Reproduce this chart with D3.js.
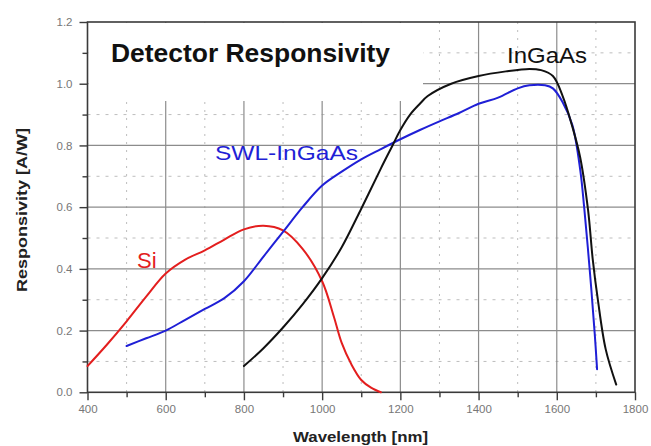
<!DOCTYPE html>
<html>
<head>
<meta charset="utf-8">
<script src="https://cdn.jsdelivr.net/npm/d3@7/dist/d3.min.js"></script>
<style>
  body { margin: 0; background: #fff; }
  text { font-family: "Liberation Sans", Arial, sans-serif; }
</style>
</head>
<body>
<svg id="chart" width="651" height="446"></svg>
<script>
// ---- data ----
var si_wl   = [400, 450, 500, 550, 600, 650, 700, 750, 800, 850, 900, 950, 1000, 1030, 1050, 1075, 1100, 1125, 1150]
var si_resp = [0.085, 0.155, 0.23, 0.31, 0.385, 0.43, 0.46, 0.495, 0.528, 0.54, 0.525, 0.465, 0.36, 0.245, 0.16, 0.09, 0.04, 0.015, 0.0]

var swl_wl   = [500, 550, 600, 650, 700, 750, 800, 850, 900, 950, 1000, 1050, 1100, 1150, 1200, 1250, 1300, 1350, 1400, 1450, 1500, 1530, 1570, 1590, 1615, 1640, 1660, 1670, 1685, 1697, 1703]
var swl_resp = [0.15, 0.175, 0.2, 0.235, 0.27, 0.305, 0.36, 0.44, 0.52, 0.6, 0.67, 0.715, 0.755, 0.788, 0.82, 0.85, 0.878, 0.905, 0.935, 0.955, 0.985, 0.995, 0.995, 0.985, 0.94, 0.865, 0.72, 0.6, 0.385, 0.19, 0.075]

var ingaas_wl   = [800, 850, 900, 950, 1000, 1050, 1100, 1150, 1180, 1200, 1225, 1250, 1270, 1330, 1400, 1470, 1530, 1560, 1590, 1615, 1640, 1660, 1680, 1692, 1705, 1725, 1752]
var ingaas_resp = [0.085, 0.143, 0.21, 0.285, 0.37, 0.47, 0.595, 0.725, 0.8, 0.85, 0.9, 0.935, 0.96, 1.0, 1.025, 1.04, 1.048, 1.044, 1.025, 0.96, 0.86, 0.76, 0.59, 0.43, 0.3, 0.14, 0.025]

var x_major = [400, 600, 800, 1000, 1200, 1400, 1600, 1800]
var x_minor = [500, 700, 900, 1100, 1300, 1500, 1700]
var y_major = [0.0, 0.2, 0.4, 0.6, 0.8, 1.0, 1.2]
var y_minor = [0.1, 0.3, 0.5, 0.7, 0.9, 1.1]

// ---- layout ----
var plot = { left: 87.5, right: 635, top: 22, bottom: 392.3 }
var grid_color = "#8c8c8c"
var minor_color = "#bdbdbd"
var frame_color = "#3a3a3a"
var label_color = "#777"

var svg = d3.select("#chart")

var x = d3.scaleLinear().domain([400, 1800]).range([plot.left, plot.right])
var y = d3.scaleLinear().domain([0, 1.2]).range([plot.bottom, plot.top])

var grid_g = svg.append("g")

// minor dotted grid
grid_g.selectAll(".vminor").data(x_minor).enter().append("line")
    .attr("x1", d => x(d)).attr("x2", d => x(d))
    .attr("y1", plot.top).attr("y2", plot.bottom)
    .attr("stroke", minor_color).attr("stroke-width", 1)
    .attr("stroke-dasharray", "2,6")
grid_g.selectAll(".hminor").data(y_minor).enter().append("line")
    .attr("x1", plot.left).attr("x2", plot.right)
    .attr("y1", d => y(d)).attr("y2", d => y(d))
    .attr("stroke", minor_color).attr("stroke-width", 1)
    .attr("stroke-dasharray", "3,6")

// major solid grid
grid_g.selectAll(".vmajor").data(x_major.slice(1, -1)).enter().append("line")
    .attr("x1", d => x(d)).attr("x2", d => x(d))
    .attr("y1", plot.top).attr("y2", plot.bottom)
    .attr("stroke", grid_color).attr("stroke-width", 1.2)
grid_g.selectAll(".hmajor").data(y_major.slice(1, -1)).enter().append("line")
    .attr("x1", plot.left).attr("x2", plot.right)
    .attr("y1", d => y(d)).attr("y2", d => y(d))
    .attr("stroke", grid_color).attr("stroke-width", 1.2)

// white box behind the title hides the grid
svg.append("rect")
    .attr("x", plot.left + 1).attr("y", plot.top + 1)
    .attr("width", 422 - plot.left).attr("height", 100 - plot.top)
    .attr("fill", "#fff")

// frame
svg.append("rect")
    .attr("x", plot.left).attr("y", plot.top)
    .attr("width", plot.right - plot.left).attr("height", plot.bottom - plot.top)
    .attr("fill", "none").attr("stroke", frame_color).attr("stroke-width", 1.6)

// axes
var y_axis_minor = d3.axisLeft(y).tickValues(y_minor).tickSize(5).tickFormat("")
var y_axis = d3.axisLeft(y).tickValues(y_major).tickSize(8).tickPadding(7).tickFormat(d3.format(".1f"))
var x_axis_minor = d3.axisBottom(x).tickValues(x_minor).tickSize(5).tickFormat("")
var x_axis = d3.axisBottom(x).tickValues(x_major).tickSize(8).tickPadding(5).tickFormat(d3.format("d"))

var style_axis = function (g) {
    g.select(".domain").remove()
    g.selectAll("line").attr("stroke", frame_color).attr("stroke-width", 1.4)
    g.selectAll("text").attr("fill", label_color).style("font-size", "11.5px")
        .style("font-family", "'Liberation Sans', Arial, sans-serif")
}

svg.append("g").attr("transform", `translate(${plot.left},0)`).call(y_axis_minor).call(style_axis)
svg.append("g").attr("transform", `translate(${plot.left},0)`).call(y_axis).call(style_axis)
svg.append("g").attr("transform", `translate(0,${plot.bottom})`).call(x_axis_minor).call(style_axis)
svg.append("g").attr("transform", `translate(0,${plot.bottom})`).call(x_axis).call(style_axis)

// curves
var series = [
    { wl: si_wl, resp: si_resp, color: "#e31e1e" },
    { wl: swl_wl, resp: swl_resp, color: "#1f1fd6" },
    { wl: ingaas_wl, resp: ingaas_resp, color: "#111111" }
]
var line = d3.line()
    .x(d => x(d[0]))
    .y(d => y(d[1]))
    .curve(d3.curveCatmullRom)

svg.append("g").selectAll("path").data(series).enter().append("path")
    .attr("d", d => line(d.wl.map((w, i) => [w, d.resp[i]])))
    .attr("fill", "none")
    .attr("stroke", d => d.color)
    .attr("stroke-width", 2)
    .attr("stroke-linejoin", "round")
    .attr("stroke-linecap", "round")

// texts
svg.append("text")
    .attr("x", 111).attr("y", 61.5)
    .text("Detector Responsivity")
    .attr("fill", "#111")
    .style("font-size", "26px").style("font-weight", "bold")
    .attr("textLength", 279).attr("lengthAdjust", "spacingAndGlyphs")

svg.append("text")
    .attr("x", 215).attr("y", 160)
    .text("SWL-InGaAs")
    .attr("fill", "#1f1fd6")
    .style("font-size", "21px")
    .attr("textLength", 143).attr("lengthAdjust", "spacingAndGlyphs")

svg.append("text")
    .attr("x", 507).attr("y", 63)
    .text("InGaAs")
    .attr("fill", "#111")
    .style("font-size", "22px")
    .attr("textLength", 80).attr("lengthAdjust", "spacingAndGlyphs")

svg.append("text")
    .attr("x", 137).attr("y", 268)
    .text("Si")
    .attr("fill", "#e31e1e")
    .style("font-size", "22px")

svg.append("text")
    .attr("transform", "translate(26.5,210) rotate(-90)")
    .attr("text-anchor", "middle")
    .text("Responsivity [A/W]")
    .attr("fill", "#222")
    .style("font-size", "14px").style("font-weight", "bold")
    .attr("textLength", 164).attr("lengthAdjust", "spacingAndGlyphs")

svg.append("text")
    .attr("x", 293).attr("y", 441.5)
    .text("Wavelength [nm]")
    .attr("fill", "#222")
    .style("font-size", "14px").style("font-weight", "bold")
    .attr("textLength", 135).attr("lengthAdjust", "spacingAndGlyphs")
</script>
</body>
</html>
